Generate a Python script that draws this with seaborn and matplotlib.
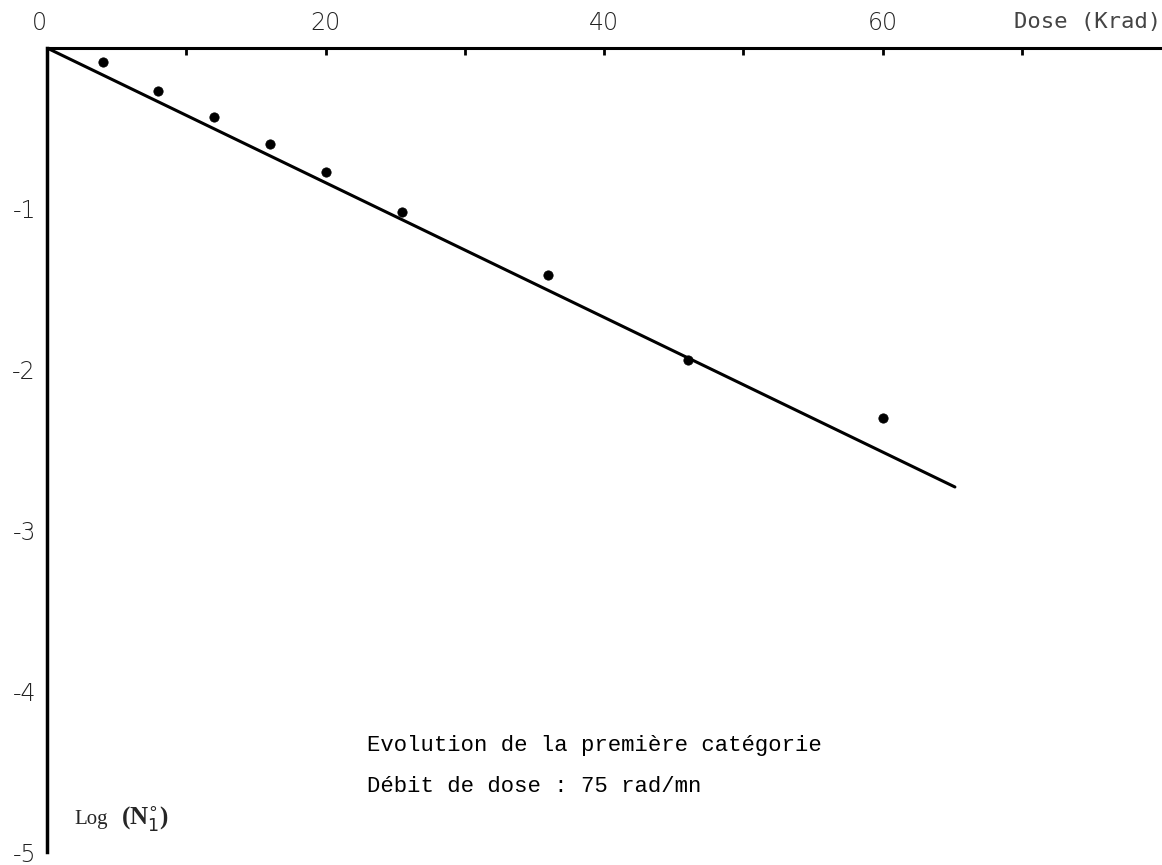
import matplotlib
matplotlib.use("Agg")
import matplotlib.pyplot as plt
import seaborn as sns
import pandas as pd

# data
dose = [4, 8, 12, 16, 20, 25.5, 36, 46, 60]
log_n = [-0.09, -0.27, -0.43, -0.60, -0.77, -1.02, -1.41, -1.94, -2.30]
fit_dose = [0, 65.2]
fit_log = [0, -2.73]
x_ticks = [0, 10, 20, 30, 40, 50, 60, 70]
x_labels = ["0", "", "20", "", "40", "", "60", ""]
y_ticks = [-1, -2, -3, -4, -5]
y_labels = ["-1", "-2", "-3", "-4", "-5"]

pts = pd.DataFrame({"dose": dose, "log": log_n})
fit = pd.DataFrame({"dose": fit_dose, "log": fit_log})

sns.set_style("white")
plt.rcParams["font.family"] = ["DejaVu Sans"]

fig = plt.figure(figsize=(11.62, 8.65), dpi=100)
top_px, bot_px = 48, 852
ax = fig.add_axes([47 / 1162, 1 - bot_px / 865, (1161 - 47) / 1162, (bot_px - top_px) / 865])

sns.lineplot(data=fit, x="dose", y="log", ax=ax, color="black", linewidth=2.2)
sns.scatterplot(data=pts, x="dose", y="log", ax=ax, color="black", s=45,
                edgecolor="black", zorder=3)

ax.set_xlim(0, 80)
ax.set_ylim(-5, 0)
ax.spines["right"].set_visible(False)
ax.spines["bottom"].set_visible(False)
ax.spines["top"].set_linewidth(2.2)
ax.spines["left"].set_linewidth(2.5)
ax.spines["top"].set_color("black")
ax.spines["left"].set_color("black")

ax.xaxis.tick_top()
ax.set_xticks(x_ticks)
ax.set_xticklabels(x_labels, fontsize=17, fontweight="light", color="#222222")
ax.get_xticklabels()[0].set_horizontalalignment("right")
ax.set_yticks(y_ticks)
ax.set_yticklabels(y_labels, fontsize=17, fontweight="light", color="#222222")
ax.tick_params(axis="x", direction="in", length=5, width=2, pad=9, colors="black",
               labelcolor="#222222")
ax.tick_params(axis="y", direction="in", length=4, width=2, pad=8, colors="black",
               labelcolor="#222222")
ax.set_xlabel("")
ax.set_ylabel("")

ax.text(1.0, 1.02, "Dose (Krad)", transform=ax.transAxes, ha="right", va="bottom",
        fontsize=16, family="DejaVu Sans Mono", color="#444444")
ax.text(2.0, -4.80, "Log", fontsize=15, family="Liberation Serif", va="center")
ax.text(5.3, -4.80, "(N$^{\\circ}_{1}$)", fontsize=18, fontweight="bold",
        family="Liberation Serif", va="center")
ax.text(23, -4.34, "Evolution de la première catégorie", fontsize=16,
        family="Liberation Mono", va="center", color="black")
ax.text(23, -4.59, "Débit de dose : 75 rad/mn", fontsize=16,
        family="Liberation Mono", va="center", color="black")

fig.savefig("out.png", dpi=100, facecolor="white")
